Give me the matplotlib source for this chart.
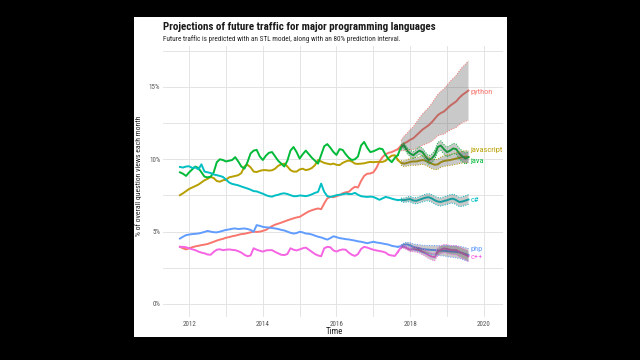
import numpy as np
import matplotlib
matplotlib.use("Agg")
import matplotlib.pyplot as plt
from matplotlib.patches import Rectangle

# ---------------- data (percent of overall question views each month) -------------
start_year = 2011.75          # October 2011, monthly observations
n_actual = 72                 # Oct 2011 .. Sep 2017
n_forecast = 23               # Oct 2017 .. Aug 2019

languages = ["python", "javascript", "java", "c#", "php", "c++"]
colors = ["#F8766D", "#B79F00", "#00BA38", "#00BFC4", "#619CFF", "#F564E3"]

python_actual = [3.95, 3.85, 3.77, 3.85, 3.92, 3.98, 4.02, 4.07, 4.1, 4.15, 4.22, 4.3,
                 4.38, 4.45, 4.5, 4.58, 4.62, 4.68, 4.72, 4.78, 4.83, 4.85, 4.9, 4.95,
                 5.0, 4.98, 5.0, 5.05, 5.12, 5.25, 5.38, 5.48, 5.55, 5.62, 5.7, 5.78,
                 5.85, 5.92, 5.98, 6.02, 6.15, 6.28, 6.4, 6.48, 6.55, 6.6, 6.55, 6.95,
                 7.3, 7.4, 7.38, 7.45, 7.52, 7.65, 7.72, 7.75, 7.95, 8.1, 8.05, 8.5,
                 8.85, 9.0, 9.02, 9.1, 9.4, 9.85, 10.15, 10.35, 10.45, 10.5, 10.6, 10.7]
javascript_actual = [7.52, 7.65, 7.8, 7.95, 8.05, 8.15, 8.25, 8.4, 8.55, 8.65, 8.78, 8.7,
                     8.5, 8.45, 8.55, 8.58, 8.75, 8.8, 8.85, 8.9, 9.05, 9.5, 9.62, 9.45,
                     9.15, 9.12, 9.2, 9.25, 9.25, 9.22, 9.24, 9.35, 9.55, 9.65, 9.7, 9.5,
                     9.25, 9.15, 9.15, 9.3, 9.35, 9.25, 9.3, 9.4, 9.6, 9.95, 9.85, 9.75,
                     9.7, 9.65, 9.7, 9.62, 9.6, 9.75, 9.85, 9.92, 9.85, 9.7, 9.68, 9.7,
                     9.72, 9.78, 9.82, 9.8, 9.82, 9.82, 9.82, 9.9, 10.1, 10.25, 10.28, 9.95]
java_actual = [9.1, 9.0, 8.85, 9.1, 9.3, 9.5, 9.4, 9.1, 8.8, 8.75, 8.8, 9.1,
               9.8, 10.0, 9.95, 9.85, 9.9, 9.95, 10.15, 9.85, 9.5, 9.35, 9.8, 10.4,
               10.6, 10.65, 10.2, 9.95, 10.25, 10.45, 10.5, 10.2, 9.9, 9.7, 9.5, 9.9,
               10.6, 10.85, 10.5, 10.05, 10.35, 10.6, 10.35, 10.1, 9.9, 9.7, 10.3, 10.9,
               11.05, 10.8, 10.5, 10.3, 10.7, 10.65, 10.35, 10.1, 9.95, 10.0, 10.2, 10.95,
               11.2, 10.8, 10.5, 10.55, 10.65, 10.75, 10.7, 10.3, 10.0, 9.8, 10.1, 10.3]
csharp_actual = [9.47, 9.43, 9.5, 9.52, 9.4, 9.45, 9.3, 9.65, 9.15, 9.1, 9.05, 8.95,
                 8.9, 8.85, 8.78, 8.6, 8.4, 8.3, 8.25, 8.2, 8.12, 8.05, 7.98, 7.9,
                 7.8, 7.78, 7.7, 7.62, 7.52, 7.45, 7.42, 7.5, 7.55, 7.62, 7.65, 7.6,
                 7.52, 7.45, 7.45, 7.5, 7.48, 7.45, 7.5, 7.58, 7.68, 7.75, 8.32, 7.75,
                 7.45, 7.4, 7.45, 7.52, 7.55, 7.58, 7.63, 7.6, 7.6, 7.68, 7.55, 7.45,
                 7.42, 7.4, 7.42, 7.4, 7.3, 7.2, 7.3, 7.4, 7.35, 7.28, 7.22, 7.18]
php_actual = [4.52, 4.65, 4.76, 4.8, 4.83, 4.85, 4.87, 4.92, 4.98, 5.05, 5.0, 4.96,
              4.95, 5.0, 5.06, 5.12, 5.15, 5.2, 5.22, 5.18, 5.2, 5.22, 5.18, 5.12,
              4.99, 5.45, 5.4, 5.33, 5.3, 5.28, 5.25, 5.22, 5.18, 5.12, 5.08, 5.0,
              4.92, 4.87, 4.9, 4.99, 4.95, 4.87, 4.85, 4.8, 4.72, 4.65, 4.6, 4.52,
              4.45, 4.55, 4.68, 4.62, 4.55, 4.52, 4.48, 4.46, 4.42, 4.38, 4.33, 4.3,
              4.25, 4.2, 4.25, 4.3, 4.25, 4.22, 4.18, 4.14, 4.1, 4.02, 3.98, 3.95]
cpp_actual = [3.95, 3.95, 3.92, 3.85, 3.78, 3.72, 3.62, 3.55, 3.5, 3.42, 3.4, 3.6,
              3.75, 3.78, 3.72, 3.75, 3.77, 3.74, 3.72, 3.65, 3.55, 3.4, 3.3, 3.35,
              3.85, 3.75, 3.68, 3.62, 3.7, 3.72, 3.72, 3.6, 3.5, 3.4, 3.38, 3.45,
              3.85, 3.75, 3.7, 3.77, 3.85, 3.9, 3.75, 3.6, 3.45, 3.35, 3.3, 3.85,
              3.95, 3.92, 3.7, 3.62, 3.72, 3.77, 3.75, 3.55, 3.4, 3.32, 3.45, 3.8,
              3.95, 3.9, 3.82, 3.75, 3.7, 3.66, 3.62, 3.55, 3.4, 3.35, 3.32, 3.6]

python_fc = [10.95, 11.1, 11.2, 11.35, 11.45, 11.65, 11.85, 12.05, 12.2, 12.35, 12.55, 12.8,
             13.05, 13.2, 13.3, 13.5, 13.7, 13.85, 14.0, 14.25, 14.45, 14.6, 14.75]
javascript_fc = [9.75, 9.7, 9.75, 9.82, 9.85, 9.85, 9.9, 9.95, 9.9, 9.8, 9.7, 9.62,
                 9.65, 9.8, 9.88, 9.92, 9.95, 10.0, 10.05, 10.1, 10.15, 10.18, 10.15]
java_fc = [10.85, 10.97, 10.6, 10.4, 10.28, 10.45, 10.6, 10.5, 10.2, 9.95, 10.05, 10.3,
           10.85, 10.95, 10.7, 10.5, 10.6, 10.75, 10.7, 10.4, 10.2, 10.05, 10.15]
csharp_fc = [7.2, 7.17, 7.22, 7.25, 7.15, 7.13, 7.2, 7.28, 7.35, 7.38, 7.3, 7.17,
             7.08, 7.05, 7.12, 7.17, 7.25, 7.28, 7.18, 7.05, 7.08, 7.15, 7.22]
php_fc = [4.0, 4.1, 4.12, 4.05, 3.95, 3.9, 3.85, 3.8, 3.77, 3.75, 3.73, 3.72,
          3.7, 3.68, 3.68, 3.66, 3.63, 3.62, 3.6, 3.57, 3.52, 3.45, 3.38]
cpp_fc = [3.92, 3.95, 3.85, 3.75, 3.78, 3.76, 3.72, 3.6, 3.5, 3.38, 3.28, 3.24,
          3.6, 3.75, 3.84, 3.8, 3.75, 3.72, 3.72, 3.6, 3.5, 3.4, 3.3]

# half-width of the 80% prediction interval
python_hw = [0.35, 0.5, 0.6, 0.7, 0.8, 0.9, 1.0, 1.08, 1.15, 1.22, 1.3, 1.37,
             1.43, 1.5, 1.56, 1.62, 1.68, 1.74, 1.8, 1.86, 1.92, 1.98, 2.05]
javascript_hw = [0.15, 0.2, 0.22, 0.24, 0.26, 0.27, 0.28, 0.3, 0.31, 0.32, 0.33, 0.34,
                 0.35, 0.36, 0.37, 0.38, 0.38, 0.39, 0.4, 0.4, 0.41, 0.42, 0.42]
java_hw = [0.15, 0.18, 0.2, 0.22, 0.23, 0.25, 0.26, 0.27, 0.28, 0.29, 0.3, 0.31,
           0.32, 0.33, 0.33, 0.34, 0.35, 0.35, 0.36, 0.37, 0.37, 0.38, 0.38]
csharp_hw = [0.12, 0.15, 0.17, 0.19, 0.2, 0.21, 0.22, 0.23, 0.24, 0.25, 0.26, 0.27,
             0.28, 0.28, 0.29, 0.3, 0.3, 0.31, 0.32, 0.32, 0.33, 0.33, 0.34]
php_hw = [0.08, 0.12, 0.15, 0.18, 0.2, 0.22, 0.24, 0.26, 0.28, 0.3, 0.31, 0.32,
          0.34, 0.35, 0.36, 0.38, 0.39, 0.4, 0.41, 0.42, 0.43, 0.44, 0.45]
cpp_hw = [0.08, 0.1, 0.12, 0.14, 0.16, 0.18, 0.19, 0.2, 0.22, 0.23, 0.24, 0.25,
          0.26, 0.27, 0.28, 0.29, 0.3, 0.31, 0.32, 0.33, 0.34, 0.35, 0.36]

label_y = [14.62, 10.67, 9.88, 7.17, 3.77, 3.26]

x_ticks = [2012, 2014, 2016, 2018, 2020]
y_ticks = [0, 5, 10, 15]
y_tick_labels = ["0%", "5%", "10%", "15%"]

title = "Projections of future traffic for major programming languages"
subtitle = "Future traffic is predicted with an STL model, along with an 80% prediction interval."

# ---------------- drawing --------------------------------------------------------------
FAM = ["Roboto Condensed", "Liberation Sans Narrow", "Roboto", "DejaVu Sans"]
plt.rcParams["font.family"] = FAM

actuals = [python_actual, javascript_actual, java_actual, csharp_actual, php_actual, cpp_actual]
fcs = [python_fc, javascript_fc, java_fc, csharp_fc, php_fc, cpp_fc]
hws = [python_hw, javascript_hw, java_hw, csharp_hw, php_hw, cpp_hw]

t_act = start_year + np.arange(n_actual) / 12.0
t_fc = start_year + np.arange(n_actual, n_actual + n_forecast) / 12.0

fig = plt.figure(figsize=(6.4, 3.6), dpi=100, facecolor="black")
fig.patches.append(Rectangle((134 / 640, 1 - 337 / 360), (507 - 134) / 640, (337 - 17) / 360,
                             transform=fig.transFigure, facecolor="white", edgecolor="none",
                             zorder=-10))

ax = fig.add_axes([163 / 640, 1 - 317 / 360, (503 - 163) / 640, (317 - 46) / 360])
ax.set_zorder(1)
ax.set_facecolor("none")

for lang, col, act, fc, hw in zip(languages, colors, actuals, fcs, hws):
    act = np.array(act)
    fc = np.array(fc)
    ax.plot(t_act, act, color=col, lw=1.4, zorder=3, solid_joinstyle="round")
    ax.plot(np.r_[t_act[-1], t_fc], np.r_[act[-1], fc], color=col, lw=1.4, zorder=3,
            solid_joinstyle="round")

for lang, col, act, fc, hw in zip(languages, colors, actuals, fcs, hws):
    fc = np.array(fc)
    hw = np.array(hw)
    lo = fc - hw
    hi = fc + hw
    ax.fill_between(t_fc, lo, hi, facecolor="#4D4D4D", alpha=0.3, edgecolor="none", zorder=4)
    ax.plot(t_fc, lo, color=col, lw=0.7, ls=(0, (1, 1.5)), zorder=5)
    ax.plot(t_fc, hi, color=col, lw=0.7, ls=(0, (1, 1.5)), zorder=5)

for lang, col, ly in zip(languages, colors, label_y):
    ax.text(2019.64, ly, lang, color=col, fontsize=6.0, ha="left", va="center", zorder=6)

ax.set_xlim(2011.29, 2020.52)
ax.set_ylim(-0.9, 17.83)
ax.set_xticks(x_ticks)
ax.set_xticklabels([str(x) for x in x_ticks])
ax.set_xticks([2013, 2015, 2017, 2019], minor=True)
ax.set_yticks(y_ticks)
ax.set_yticklabels(y_tick_labels)
ax.set_yticks([2.5, 7.5, 12.5, 17.5], minor=True)
ax.grid(True, which="major", color="#E4E4E4", lw=0.7, zorder=0)
ax.grid(True, which="minor", color="#E4E4E4", lw=0.7, zorder=0)
ax.set_axisbelow(True)
for s in ax.spines.values():
    s.set_visible(False)
ax.tick_params(which="both", length=0, labelsize=5.0, labelcolor="#555555")
ax.tick_params(axis="y", pad=2)
ax.tick_params(axis="x", pad=3)

fig.text(163 / 640, 1 - 29.5 / 360, title, fontsize=7.9, fontweight="bold", color="#1a1a1a",
         ha="left", va="baseline")
fig.text(163 / 640, 1 - 40.7 / 360, subtitle, fontsize=5.2, color="#222222",
         ha="left", va="baseline")
fig.text(139 / 640, 1 - 176 / 360, "% of overall question views each month", rotation=90,
         fontsize=5.6, color="#222222", ha="center", va="center")
fig.text(334 / 640, 1 - 332 / 360, "Time", fontsize=6.4, color="#222222",
         ha="center", va="center")

fig.savefig("out.png", dpi=100, facecolor="black")
